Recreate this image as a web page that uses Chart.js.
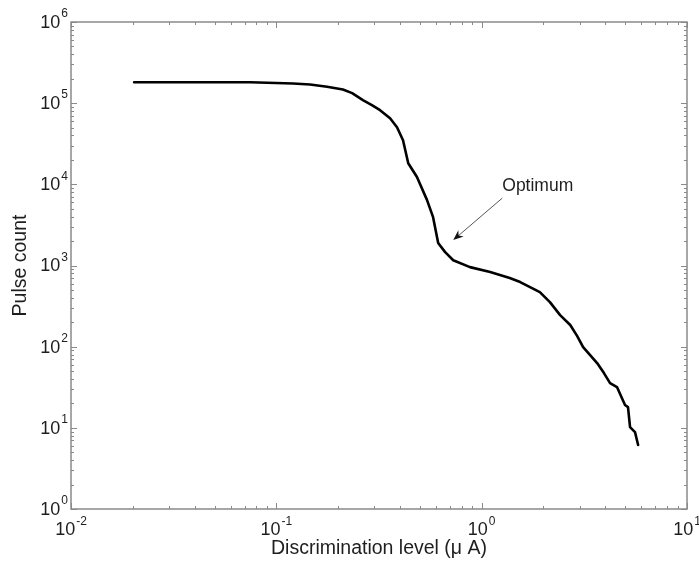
<!DOCTYPE html>
<html>
<head>
<meta charset="utf-8">
<script src="https://cdn.jsdelivr.net/npm/chart.js@4.4.0/dist/chart.umd.min.js"></script>
<style>
  body { margin: 0; background: #fff; }
  canvas { display: block; }
</style>
</head>
<body>
<canvas id="pulse-chart" width="699" height="565"></canvas>
<script>
"use strict";

// discrimination level (uA) and pulse count above that level
let discLevel = [
  0.0203, 0.0450, 0.0745, 0.1205, 0.146, 0.1767, 0.211, 0.234, 0.264, 0.292,
  0.320, 0.358, 0.387, 0.414, 0.439, 0.484, 0.542, 0.580, 0.614, 0.664,
  0.727, 0.877, 1.10, 1.37, 1.54, 1.72, 1.92, 2.15, 2.41, 2.70, 2.92, 3.12,
  3.65, 3.94, 4.22, 4.56, 4.99, 5.16, 5.28, 5.58, 5.78
];
let pulseCount = [
  181000, 181000, 181000, 175000, 170000, 159000, 147000, 133000, 109000, 94500,
  82000, 65300, 50600, 35000, 18200, 12300, 6390, 3940, 1890, 1460,
  1160, 955, 829, 700, 625, 542, 470, 354, 245, 185, 135, 98.9,
  62.8, 47.3, 35.6, 31.8, 19.1, 18.0, 10.2, 8.87, 6.14
];

let xDecades = [-2, -1, 0, 1];
let yDecades = [0, 1, 2, 3, 4, 5, 6];

let optimumLabel = "Optimum";
let optimumTip = { x: 0.727, y: 2055 };
let optimumTail = { x: 1.26, y: 6760 };
let optimumTextAt = { x: 1.26, y: 9500 };

let xTitle = "Discrimination level (\u03bc A)";
let yTitle = "Pulse count";

let points = [];
for (let i = 0; i < discLevel.length; i++) {
  points.push({ x: discLevel[i], y: pulseCount[i] });
}

const FONT = "'Liberation Sans', Arial, sans-serif";

// box, inward ticks on all four sides
let axisFrame = {
  id: "axisFrame",
  beforeDatasetsDraw(chart) {
    let ctx = chart.ctx;
    let a = chart.chartArea;
    let xs = chart.scales.x;
    let ys = chart.scales.y;
    ctx.save();
    ctx.strokeStyle = "#8a8a8a";
    ctx.lineWidth = 1;
    ctx.beginPath();
    for (let d of xDecades) {
      for (let m = 1; m <= 9; m++) {
        if (d === xDecades[xDecades.length - 1] && m > 1) break;
        let px = Math.round(xs.getPixelForValue(m * Math.pow(10, d))) + 0.5;
        let len = m === 1 ? 6 : 3;
        ctx.moveTo(px, a.bottom);
        ctx.lineTo(px, a.bottom - len);
        ctx.moveTo(px, a.top);
        ctx.lineTo(px, a.top + len);
      }
    }
    for (let d of yDecades) {
      for (let m = 1; m <= 9; m++) {
        if (d === yDecades[yDecades.length - 1] && m > 1) break;
        let py = Math.round(ys.getPixelForValue(m * Math.pow(10, d))) + 0.5;
        let len = m === 1 ? 6 : 3;
        ctx.moveTo(a.left, py);
        ctx.lineTo(a.left + len, py);
        ctx.moveTo(a.right, py);
        ctx.lineTo(a.right - len, py);
      }
    }
    ctx.stroke();
    ctx.lineWidth = 1.5;
    ctx.strokeRect(a.left, a.top, a.right - a.left, a.bottom - a.top);
    ctx.restore();
  },
  afterDraw(chart) {
    let ctx = chart.ctx;
    let a = chart.chartArea;
    let xs = chart.scales.x;
    let ys = chart.scales.y;
    ctx.save();
    ctx.fillStyle = "#1e1e1e";
    ctx.textBaseline = "middle";

    // power-of-ten tick labels
    for (let d of yDecades) {
      let py = ys.getPixelForValue(Math.pow(10, d));
      let exp = String(d);
      ctx.font = "12px " + FONT;
      let ew = ctx.measureText(exp).width;
      let right = a.left - 3;
      ctx.textAlign = "left";
      ctx.fillText(exp, right - ew, py - 8);
      ctx.font = "18px " + FONT;
      ctx.textAlign = "right";
      ctx.fillText("10", right - ew - 1, py + 1);
    }
    for (let d of xDecades) {
      let px = xs.getPixelForValue(Math.pow(10, d));
      let exp = d < 0 ? "-" + Math.abs(d) : String(d);
      ctx.font = "18px " + FONT;
      let bw = ctx.measureText("10").width;
      ctx.font = "12px " + FONT;
      let ew = ctx.measureText(exp).width;
      let left = px - (bw + ew + 1) / 2;
      ctx.textAlign = "left";
      ctx.fillText(exp, left + bw + 1, a.bottom + 13);
      ctx.font = "18px " + FONT;
      ctx.fillText("10", left, a.bottom + 21);
    }

    // axis titles
    ctx.font = "19.5px " + FONT;
    ctx.textAlign = "center";
    ctx.fillText(xTitle, (a.left + a.right) / 2, a.bottom + 40);
    ctx.save();
    ctx.translate(21, (a.top + a.bottom) / 2);
    ctx.rotate(-Math.PI / 2);
    ctx.fillText(yTitle, 0, 0);
    ctx.restore();

    // optimum arrow
    let tx = xs.getPixelForValue(optimumTip.x);
    let ty = ys.getPixelForValue(optimumTip.y);
    let sx = xs.getPixelForValue(optimumTail.x);
    let sy = ys.getPixelForValue(optimumTail.y);
    let ang = Math.atan2(ty - sy, tx - sx);
    let headLen = 11;
    ctx.strokeStyle = "#555";
    ctx.lineWidth = 1;
    ctx.beginPath();
    ctx.moveTo(sx, sy);
    ctx.lineTo(tx - Math.cos(ang) * 6, ty - Math.sin(ang) * 6);
    ctx.stroke();
    ctx.fillStyle = "#111";
    ctx.beginPath();
    ctx.moveTo(tx, ty);
    ctx.lineTo(tx - headLen * Math.cos(ang - 0.38), ty - headLen * Math.sin(ang - 0.38));
    ctx.lineTo(tx - 7 * Math.cos(ang), ty - 7 * Math.sin(ang));
    ctx.lineTo(tx - headLen * Math.cos(ang + 0.38), ty - headLen * Math.sin(ang + 0.38));
    ctx.closePath();
    ctx.fill();

    ctx.fillStyle = "#1e1e1e";
    ctx.textAlign = "left";
    ctx.font = "17.5px " + FONT;
    ctx.fillText(optimumLabel, xs.getPixelForValue(optimumTextAt.x), ys.getPixelForValue(optimumTextAt.y));
    ctx.restore();
  }
};

let ctx = document.getElementById("pulse-chart");
let chart = new Chart(ctx, {
  type: "line",
  data: {
    datasets: [{
      label: yTitle,
      data: points,
      borderColor: "#000",
      borderWidth: 2.6,
      pointRadius: 0,
      tension: 0,
      fill: false,
      borderJoinStyle: "round",
      borderCapStyle: "round"
    }]
  },
  options: {
    responsive: false,
    animation: false,
    layout: { padding: { left: 71, right: 12, top: 22, bottom: 56 } },
    plugins: { legend: { display: false }, tooltip: { enabled: false } },
    scales: {
      x: { type: "logarithmic", min: 0.01, max: 10, display: false },
      y: { type: "logarithmic", min: 1, max: 1000000, display: false }
    }
  },
  plugins: [axisFrame]
});
</script>
</body>
</html>
